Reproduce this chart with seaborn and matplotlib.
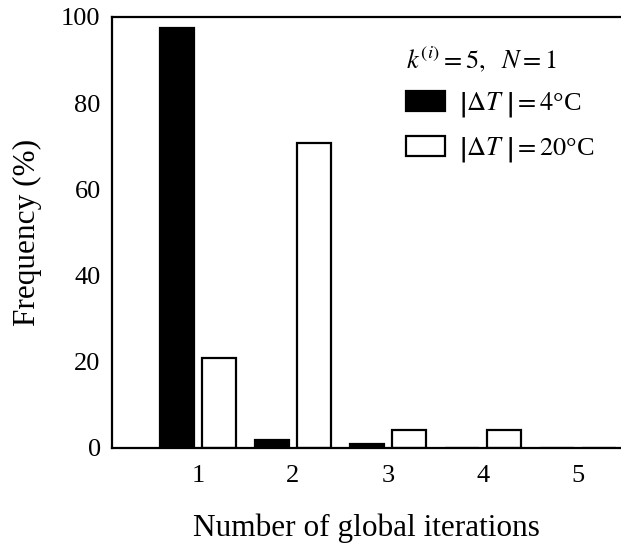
import matplotlib
matplotlib.use("Agg")
import matplotlib.pyplot as plt
import seaborn as sns
import pandas as pd

iterations = ["1", "2", "3", "4", "5"]
freq_dT4 = [97.4, 1.8, 0.9, 0.0, 0.0]
freq_dT20 = [20.8, 70.8, 4.2, 4.2, 0.0]
series_labels = [r"$\left|\Delta T_{\,}^{\,}\right| = 4$°C",
                 r"$\left|\Delta T_{\,}^{\,}\right| = 20$°C"]
legend_title = r"$k^{(i)} = 5,\ \ N = 1$"
xlabel = "Number of global iterations"
ylabel = "Frequency (%)"
yticks = [0, 20, 40, 60, 80, 100]

sns.set_theme(style="white")
plt.rcParams["font.family"] = ["Liberation Serif", "DejaVu Serif"]
plt.rcParams["mathtext.fontset"] = "stix"
plt.rcParams["text.color"] = "black"
plt.rcParams["axes.labelcolor"] = "black"
plt.rcParams["xtick.color"] = "black"
plt.rcParams["ytick.color"] = "black"

df = pd.DataFrame({
    "iter": iterations * 2,
    "freq": freq_dT4 + freq_dT20,
    "series": [series_labels[0]] * len(iterations) + [series_labels[1]] * len(iterations),
})

fig = plt.figure(figsize=(6.21, 5.45), dpi=100)
ax = fig.add_axes([0.180, 0.178, 0.82, 0.791])

sns.barplot(data=df, x="iter", y="freq", hue="series", order=iterations,
            hue_order=series_labels,
            palette={series_labels[0]: "black", series_labels[1]: "white"},
            edgecolor="black", linewidth=1.6, width=0.88, gap=0.18,
            errorbar=None, ax=ax)

ax.set_xlim(-0.905, 4.45)
ax.set_ylim(0, 100)
ax.set_yticks(yticks)
ax.set_xlabel(xlabel, fontsize=22.5, labelpad=19, color="black")
ax.set_ylabel(ylabel, fontsize=22.5, labelpad=14, color="black")
ax.tick_params(axis="y", direction="in", length=14, width=1.5, labelsize=19, pad=8,
               colors="black")
ax.tick_params(axis="x", direction="in", length=0, labelsize=19, pad=12, colors="black")

for s in ["left", "bottom", "top"]:
    ax.spines[s].set_visible(True)
    ax.spines[s].set_linewidth(1.6)
    ax.spines[s].set_color("black")
ax.spines["right"].set_visible(False)

leg = ax.legend(title=legend_title, frameon=False, loc="upper right",
                bbox_to_anchor=(0.995, 0.99), fontsize=19, title_fontsize=19,
                handlelength=1.45, handleheight=0.8, handletextpad=0.55,
                labelspacing=0.6)
leg._legend_box.align = "left"
for h in leg.legend_handles:
    h.set_edgecolor("black")
    h.set_linewidth(1.6)
for t in leg.get_texts():
    t.set_color("black")
leg.get_title().set_color("black")

fig.savefig("out.png", dpi=100)
